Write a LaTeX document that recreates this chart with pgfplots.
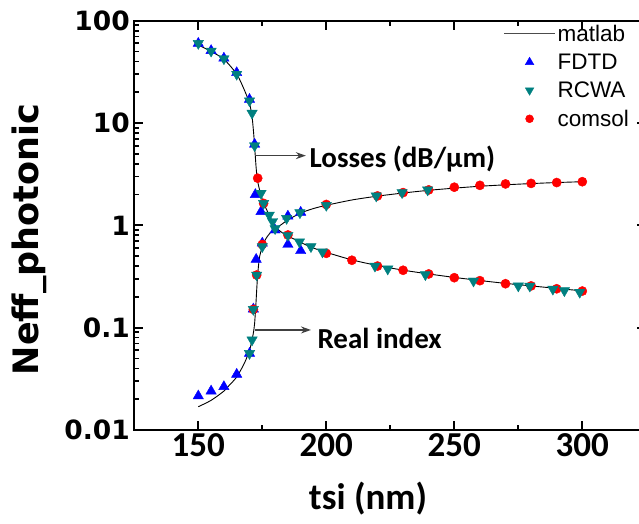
\documentclass[border=0pt]{standalone}
\usepackage{fontspec}
\setmainfont{Liberation Sans}
\newfontfamily\dejavu{DejaVu Sans}
\newfontfamily\carlito{Carlito}
\usepackage{pgfplots}
\pgfplotsset{compat=1.18}
\usetikzlibrary{arrows.meta}
\definecolor{fdtd}{RGB}{0,0,255}
\definecolor{rcwa}{RGB}{0,128,128}
\definecolor{comsolc}{RGB}{255,0,0}
\pgfplotsset{
  lineleg/.style={legend image code/.code={\draw[##1] (0pt,0pt) -- (51pt,0pt);}},
  markleg/.style={legend image code/.code={\draw[##1] plot coordinates {(25.5pt,0pt)};}}
}

\begin{document}
\begin{tikzpicture}
\path[use as bounding box] (0,0) rectangle (639pt,523pt);
\clip (0,0) rectangle (639pt,523pt);
\begin{axis}[
  at={(134.3pt,93pt)}, anchor=south west,
  scale only axis, width=512pt, height=409.3pt,
  xmin=125, xmax=325, ymin=0.01, ymax=100, ymode=log,
  xtick={150,200,250,300}, xticklabels={150,200,250,300},
  minor xtick={175,225,275},
  ytick={0.01,0.1,1,10,100}, yticklabels={0.01,0.1,1,10,100},
  minor ytick={0.02,0.03,0.04,0.05,0.06,0.07,0.08,0.09,0.2,0.3,0.4,0.5,0.6,0.7,0.8,0.9,2,3,4,5,6,7,8,9,20,30,40,50,60,70,80,90},
  tick align=inside,
  major tick length=9pt, minor tick length=5pt,
  axis line style={line width=2.2pt},
  tick style={black, line width=1.8pt},
  xticklabel style={font=\carlito\bfseries\fontsize{35}{40}\selectfont},
  yticklabel style={font=\dejavu\bfseries\fontsize{26.5}{30}\selectfont, xshift=-1pt},
  xlabel={tsi (nm)}, ylabel={Neff\_photonic},
  xlabel style={font=\carlito\bfseries\fontsize{37}{42}\selectfont, at={(axis description cs:0.4564,-0.1665)}, anchor=center},
  ylabel style={font=\dejavu\bfseries\fontsize{35}{40}\selectfont, at={(axis description cs:-0.2057,0.4654)}, anchor=center},
  legend style={draw=none, fill=none, at={(axis description cs:0.7150,1)}, anchor=north west,
    font=\fontsize{22.5}{25}\selectfont, row sep=7pt},
  legend cell align=left,
]
% FDTD
\addplot[only marks, mark=triangle*, mark size=6pt, color=fdtd, forget plot] coordinates {
(150,60) (155,51) (160,43) (165,31) (170,17) (172,6.2) (172.3,2.0) (174.5,1.36) (180,0.90) (185,0.65) (190,0.565)
(150,0.0215) (155,0.024) (160,0.0265) (165,0.035) (170,0.056) (171.5,0.152) (172.6,0.465) (175,0.67) (185,1.23) (190,1.34)
};
% comsol
\addplot[only marks, mark=*, mark size=4.6pt, color=comsolc, forget plot] coordinates {
(173.2,2.89) (175.5,1.64) (185,0.805) (200,0.533) (210,0.456) (220,0.40) (230,0.364) (240,0.335) (250,0.308) (260,0.288) (270,0.269) (280,0.256) (290,0.24) (300,0.228)
(171.5,0.151) (172.8,0.327) (175,0.65) (200,1.6) (220,1.94) (230,2.09) (240,2.22) (250,2.36) (260,2.46) (270,2.54) (280,2.57) (290,2.62) (300,2.67)
};
% RCWA
\addplot[only marks, mark=triangle*, mark size=6pt, mark options={rotate=180}, color=rcwa, forget plot] coordinates {
(150,60) (155,50.5) (160,42.5) (165,30) (170,16.5) (171,12.5) (172,6.0) (174.5,2.06) (175.5,1.64) (177.7,1.26) (179,1.09) (180,0.93) (185,0.80) (189.5,0.69) (194,0.62) (198.5,0.55) (219,0.40) (224,0.375) (238.7,0.33) (257.5,0.286) (275,0.256) (279.5,0.255) (288.5,0.238) (293,0.23) (299,0.222)
(170,0.056) (171,0.076) (171.5,0.151) (172.8,0.327) (175,0.62) (184.5,1.17) (189.7,1.33) (200,1.57) (219.5,1.94) (229.6,2.09) (239.6,2.22)
};
% matlab losses branch
\addplot[black, line width=0.9pt, smooth, forget plot] coordinates {
(150,58) (155,50) (160,42) (165,30) (168,21) (170,15.5) (171,11.5) (171.7,7.5) (172.2,5.0) (172.7,3.4) (173.3,2.6) (174,2.2) (175,1.8) (176,1.55) (177,1.37) (178,1.22) (179,1.09) (180,0.98) (181,0.92) (183,0.84) (185,0.79) (188,0.72) (190,0.68) (195,0.6) (200,0.545) (210,0.46) (220,0.405) (230,0.365) (240,0.335) (250,0.31) (260,0.289) (270,0.271) (280,0.256) (290,0.242) (300,0.229)
};
% matlab real index branch
\addplot[black, line width=0.9pt, smooth, forget plot] coordinates {
(150,0.0169) (155,0.0195) (160,0.024) (162,0.0272) (165,0.033) (168,0.045) (170,0.06) (171,0.076) (171.7,0.095) (172,0.11) (172.5,0.17) (173,0.28) (173.5,0.4) (174,0.5) (175,0.62) (176,0.71) (177,0.78) (178,0.84) (180,0.93) (182,1.0) (185,1.13) (190,1.32) (195,1.46) (200,1.57) (210,1.77) (220,1.93) (230,2.07) (240,2.2) (250,2.31) (260,2.41) (270,2.49) (280,2.56) (290,2.62) (300,2.67)
};
\addlegendimage{black!70, line width=1pt, lineleg}
\addlegendentry{matlab}
\addlegendimage{only marks, mark=triangle*, mark size=5pt, color=fdtd, markleg}
\addlegendentry{FDTD}
\addlegendimage{only marks, mark=triangle*, mark size=5pt, mark options={rotate=180}, color=rcwa, markleg}
\addlegendentry{RCWA}
\addlegendimage{only marks, mark=*, mark size=4pt, color=comsolc, markleg}
\addlegendentry{comsol}
% annotations
\draw[-{Stealth[length=10pt,width=7pt]}, line width=1.2pt, black!75] (axis cs:172.3,4.8) -- (axis cs:192,4.8);
\node[anchor=west, inner sep=0pt, font=\carlito\bfseries\fontsize{29}{32}\selectfont] at (axis cs:193.4,4.4) {Losses (dB/μm)};
\draw[-{Stealth[length=10pt,width=7pt]}, line width=1.2pt, black!75] (axis cs:172.3,0.095) -- (axis cs:194,0.095);
\node[anchor=west, inner sep=0pt, font=\carlito\bfseries\fontsize{29}{32}\selectfont] at (axis cs:196.5,0.079) {Real index};
\end{axis}
\end{tikzpicture}
\end{document}
